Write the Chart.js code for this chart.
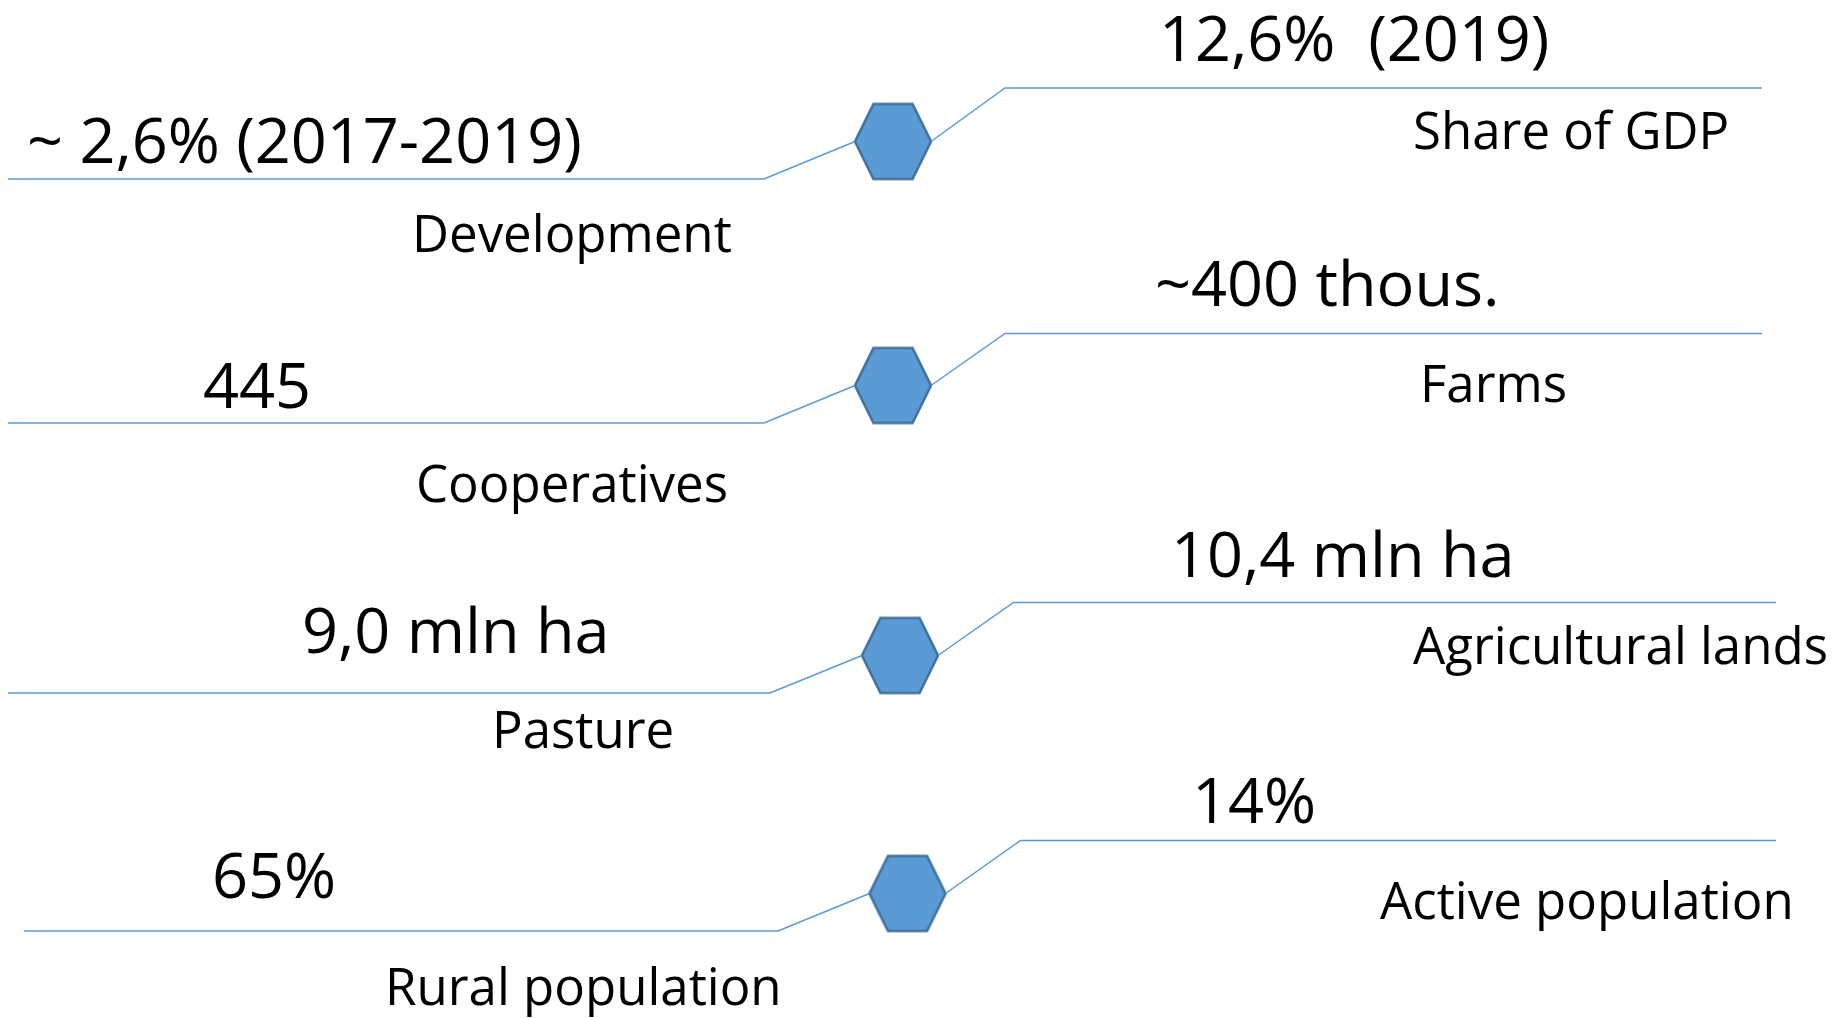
<!DOCTYPE html>
<html>
<head>
<meta charset="utf-8">
<script src="https://cdn.jsdelivr.net/npm/chart.js@4/dist/chart.umd.min.js"></script>
<style>
  html, body { margin: 0; padding: 0; background: #ffffff; overflow: hidden; }
  #wrap { position: relative; width: 1848px; height: 1018px; }
</style>
</head>
<body>
<div id="wrap"><canvas id="c" width="1848" height="1018"></canvas></div>
<script>
// ---- data ----
const leftCategories  = ["Development", "Cooperatives", "Pasture", "Rural population"];
const leftValues      = ["~ 2,6% (2017-2019)", "445", "9,0 mln ha", "65%"];
const rightCategories = ["Share of GDP", "Farms", "Agricultural lands", "Active population"];
const rightValues     = ["12,6%  (2019)", "~400 thous.", "10,4 mln ha", "14%"];

// ---- layout (canvas units of the hidden linear scales) ----
const layout = {
  hexX:       [893, 893, 900, 907.5],
  hexY:       [141.5, 385.5, 655.5, 893.5],
  hexHalfW:   38,
  leftLineY:  [179, 423, 693, 931],
  leftStart:  [8, 8, 8, 24],
  leftBend:   [764, 764, 770, 778],
  rightLineY: [88, 333.5, 602.5, 840.5],
  rightBend:  [1005, 1005, 1013.5, 1020.5],
  rightEnd:   [1762, 1762, 1776, 1776],
  leftValX:   [27, 203, 302, 212],
  leftValY:   [162.5, 407.5, 653, 898],
  leftCatX:   [412, 416, 492, 385],
  leftCatY:   [252, 502, 747.5, 1005],
  rightValX:  [1159, 1155, 1171, 1192],
  rightValY:  [61, 306, 577, 822.5],
  rightCatX:  [1413, 1420, 1413, 1380],
  rightCatY:  [149, 402, 664, 919]
};

const BLUE = "#5B9BD5";
const BLUE_DARK = "#41719C";

// hexagon point style
function makeHex() {
  const s = 84, c = document.createElement("canvas");
  c.width = s; c.height = s;
  const g = c.getContext("2d");
  const cx = s / 2, cy = s / 2, hw = 38, hh = 37.5, tw = 19.5;
  g.beginPath();
  g.moveTo(cx - hw, cy);
  g.lineTo(cx - tw, cy - hh);
  g.lineTo(cx + tw, cy - hh);
  g.lineTo(cx + hw, cy);
  g.lineTo(cx + tw, cy + hh);
  g.lineTo(cx - tw, cy + hh);
  g.closePath();
  g.fillStyle = BLUE;
  g.fill();
  g.lineWidth = 2.6;
  g.strokeStyle = BLUE_DARK;
  g.lineJoin = "miter";
  g.stroke();
  return c;
}
const hexImg = makeHex();

// connector datasets
const datasets = [];
for (let i = 0; i < leftCategories.length; i++) {
  datasets.push({
    label: "left-" + i,
    data: [
      { x: layout.leftStart[i], y: layout.leftLineY[i] },
      { x: layout.leftBend[i],  y: layout.leftLineY[i] },
      { x: layout.hexX[i] - layout.hexHalfW, y: layout.hexY[i] }
    ],
    showLine: true, borderColor: BLUE, borderWidth: 1.5, pointRadius: 0, tension: 0, clip: false
  });
  datasets.push({
    label: "right-" + i,
    data: [
      { x: layout.hexX[i] + layout.hexHalfW, y: layout.hexY[i] },
      { x: layout.rightBend[i], y: layout.rightLineY[i] },
      { x: layout.rightEnd[i],  y: layout.rightLineY[i] }
    ],
    showLine: true, borderColor: BLUE, borderWidth: 1.5, pointRadius: 0, tension: 0, clip: false
  });
}
datasets.push({
  label: "hex",
  data: leftCategories.map((_, i) => ({ x: layout.hexX[i], y: layout.hexY[i] })),
  showLine: false,
  pointStyle: hexImg,
  pointRadius: 40,
  clip: false
});

const labelsPlugin = {
  id: "labels",
  afterDatasetsDraw(chart) {
    const ctx = chart.ctx, xs = chart.scales.x, ys = chart.scales.y;
    ctx.save();
    ctx.fillStyle = "#000000";
    ctx.textAlign = "left";
    ctx.textBaseline = "alphabetic";
    const draw = (txt, x, y, size) => {
      ctx.font = size + "px 'Open Sans', 'Noto Sans', sans-serif";
      ctx.fillText(txt, xs.getPixelForValue(x), ys.getPixelForValue(y));
    };
    for (let i = 0; i < leftValues.length; i++) {
      draw(leftValues[i], layout.leftValX[i], layout.leftValY[i], 63);
      draw(leftCategories[i], layout.leftCatX[i], layout.leftCatY[i], 51);
      draw(rightValues[i], layout.rightValX[i], layout.rightValY[i], 63);
      draw(rightCategories[i], layout.rightCatX[i], layout.rightCatY[i], 51);
    }
    ctx.restore();
  }
};

new Chart(document.getElementById("c"), {
  type: "scatter",
  data: { datasets },
  options: {
    responsive: false,
    animation: false,
    layout: { padding: 0, autoPadding: false },
    plugins: { legend: { display: false }, tooltip: { enabled: false } },
    scales: {
      x: { type: "linear", min: 0, max: 1848, display: false },
      y: { type: "linear", min: 0, max: 1018, reverse: true, display: false }
    }
  },
  plugins: [labelsPlugin]
});
</script>
</body>
</html>
